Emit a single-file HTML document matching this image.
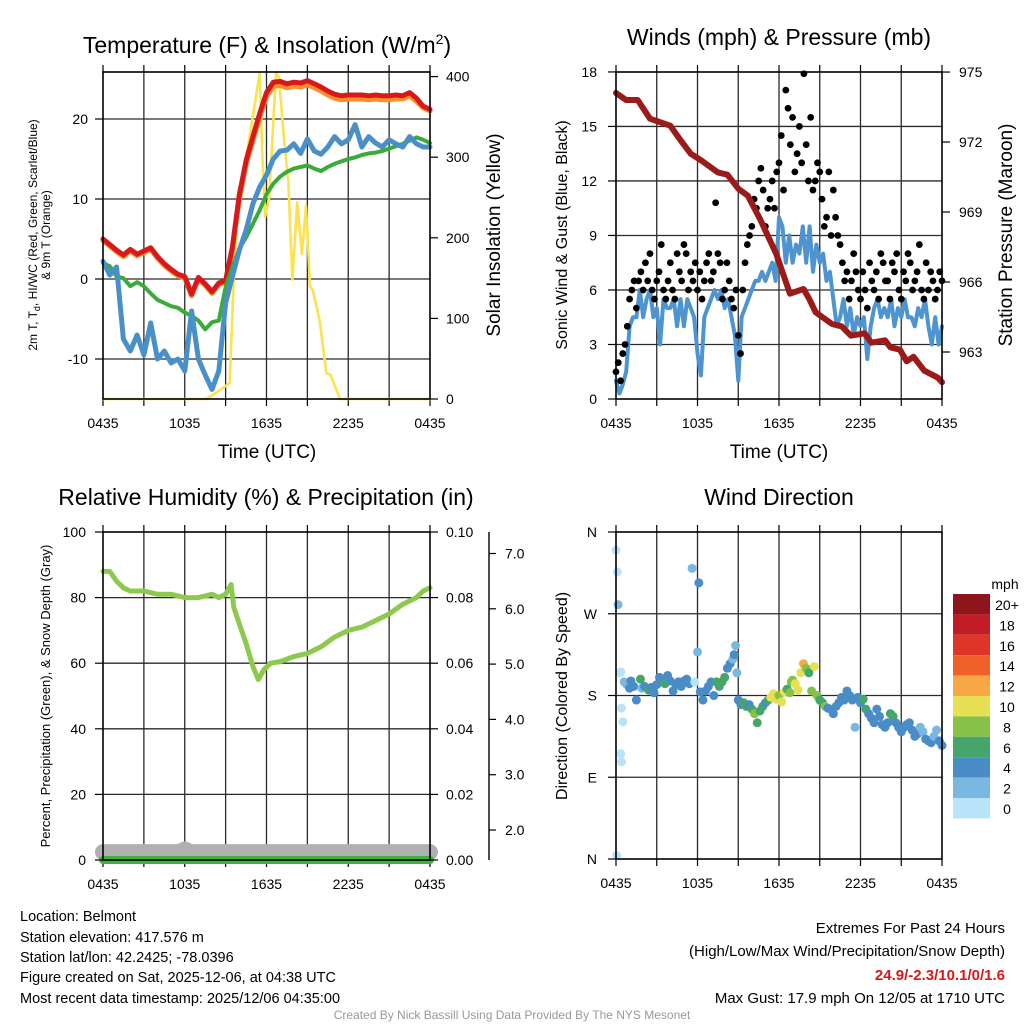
<!DOCTYPE html>
<html><head><meta charset="utf-8"><style>
html,body{margin:0;padding:0;background:#fff;}
svg{display:block;font-family:"Liberation Sans",Arial,sans-serif;}
</style></head><body>
<svg id="s" width="1024" height="1024" viewBox="0 0 1024 1024" xmlns="http://www.w3.org/2000/svg">
<rect width="1024" height="1024" fill="#fff"/>
<text x="267" y="53" font-size="23" text-anchor="middle">Temperature (F) &amp; Insolation (W/m<tspan font-size="14" dy="-9">2</tspan><tspan dy="9">)</tspan></text>
<text x="779" y="45" font-size="23" text-anchor="middle">Winds (mph) &amp; Pressure (mb)</text>
<text x="266" y="505" font-size="23" text-anchor="middle">Relative Humidity (%) &amp; Precipitation (in)</text>
<text x="779" y="505" font-size="23" text-anchor="middle">Wind Direction</text>
<text x="267" y="458" font-size="19" text-anchor="middle">Time (UTC)</text>
<text x="779" y="458" font-size="19" text-anchor="middle">Time (UTC)</text>
<g font-size="12" text-anchor="middle">
<text transform="translate(37,235) rotate(-90)">2m T, T<tspan font-size="9" dy="3">d</tspan><tspan dy="-3">, HI/WC (Red, Green, Scarlet/Blue)</tspan></text>
<text transform="translate(50,235) rotate(-90)">&amp; 9m T (Orange)</text>
</g>
<text transform="translate(500,235) rotate(-90)" font-size="19" text-anchor="middle">Solar Insolation (Yellow)</text>
<text transform="translate(567,235) rotate(-90)" font-size="16" text-anchor="middle">Sonic Wind &amp; Gust (Blue, Black)</text>
<text transform="translate(1012,235) rotate(-90)" font-size="19" text-anchor="middle">Station Pressure (Maroon)</text>
<text transform="translate(50,696) rotate(-90)" font-size="13" text-anchor="middle">Percent, Precipitation (Green), &amp; Snow Depth (Gray)</text>
<text transform="translate(567,696) rotate(-90)" font-size="16" text-anchor="middle">Direction (Colored By Speed)</text>
<g font-size="14.5">
<text x="20" y="921">Location: Belmont</text>
<text x="20" y="942">Station elevation: 417.576 m</text>
<text x="20" y="962">Station lat/lon: 42.2425; -78.0396</text>
<text x="20" y="982">Figure created on Sat, 2025-12-06, at 04:38 UTC</text>
<text x="20" y="1003">Most recent data timestamp: 2025/12/06 04:35:00</text>
</g>
<g font-size="15" text-anchor="end">
<text x="1005" y="933">Extremes For Past 24 Hours</text>
<text x="1005" y="956">(High/Low/Max Wind/Precipitation/Snow Depth)</text>
<text x="1005" y="980" fill="#d7191c" font-weight="bold">24.9/-2.3/10.1/0/1.6</text>
<text x="1005" y="1003">Max Gust: 17.9 mph On 12/05 at 1710 UTC</text>
</g>
<text x="512" y="1019" font-size="12" fill="#999" text-anchor="middle">Created By Nick Bassill Using Data Provided By The NYS Mesonet</text>
</svg>
<script>
// ---------- data ----------
const xTickLabels=["0435","1035","1635","2235","0435"];
const tempTicks=[-10,0,10,20];
const solarTicks=[0,100,200,300,400];
const windTicks=[0,3,6,9,12,15,18];
const presTicks=[963,966,969,972,975];
const rhTicks=[0,20,40,60,80,100];
const precipTicks=["0.00","0.02","0.04","0.06","0.08","0.10"];
const snowTicks=[2.0,3.0,4.0,5.0,6.0,7.0];
const dirLabels=["N","E","S","W","N"];
const speedBins=["0","2","4","6","8","10","12","14","16","18","20+"];
const speedColors=["#b9e3f8","#7ab8e4","#4a8cc6","#45a56b","#86c24a","#e6e055","#f7a845","#ef6128","#de3528","#c01d27","#8e151b"];

const tempRed=[5.0,4.3,3.6,3.0,3.7,3.1,3.5,3.9,2.8,1.9,1.2,0.6,0.3,-1.9,0.2,-0.6,-1.6,-0.5,-0.2,4.0,10.5,14.8,17.8,20.7,23.3,24.6,24.7,24.4,24.6,24.5,24.8,24.4,24.0,23.5,23.1,22.9,23.0,23.0,23.0,22.9,23.0,22.9,22.9,23.0,22.9,23.3,22.6,21.6,21.2];
const tempOrange=[4.8,4.1,3.4,2.8,3.5,2.9,3.3,3.7,2.6,1.7,1.0,0.4,0.1,-2.1,0.0,-0.8,-1.8,-0.7,-0.4,3.6,10.0,14.3,17.3,20.2,22.8,24.1,24.2,23.9,24.1,24.0,24.3,23.9,23.5,23.0,22.6,22.4,22.5,22.5,22.5,22.4,22.5,22.4,22.4,22.5,22.5,22.9,22.2,21.4,21.0];
const tempDew=[2.0,1.6,0.3,0.1,-0.9,-0.4,-0.9,-1.8,-2.6,-3.0,-3.4,-3.6,-4.2,-4.6,-5.2,-6.3,-5.4,-5.2,-1.0,1.5,3.8,5.2,6.9,8.6,10.6,11.9,12.8,13.4,13.8,14.0,14.2,13.8,13.5,14.0,14.4,14.7,15.0,15.2,15.5,15.7,15.8,16.0,16.3,16.6,16.9,17.3,17.7,17.4,17.0];
const tempChill=[2.2,0.5,1.5,-7.5,-9.0,-7.0,-9.5,-5.5,-10.0,-9.0,-10.5,-10.0,-11.5,-4.0,-10.0,-12.0,-13.8,-11.5,-3.0,0.3,3.6,6.1,9.4,11.5,13.0,15.0,16.0,16.1,16.9,15.7,17.5,16.0,15.6,16.5,17.8,16.9,17.4,19.3,16.5,17.8,17.0,16.5,17.4,16.9,16.5,17.8,16.9,16.5,16.5];
const solarTimes=[0,7.6,8.5,9.3,9.6,9.9,10.3,10.8,11.5,11.7,11.9,12.2,12.7,12.9,13.3,13.6,13.9,14.25,14.6,14.9,15.2,15.4,15.9,16.4,16.7,17.4,24];
const solarValues=[0,0,10,20,150,255,280,330,405,300,226,250,405,400,320,270,148,244,180,240,140,135,98,32,30,0,0];

const windSpeed=[1.0,0.3,0.8,1.5, 4.0,4.5,4.5,6.0, 4.5,5.5,6.0,4.5, 5.0,3.0,5.5,5.0, 5.0,5.5,4.0,5.5, 4.0,5.5,5.0,4.5, 2.5,1.3,4.5,5.0, 5.5,6.0,5.5,6.0, 5.0,5.5,4.5,3.5, 1.0,4.5,5.0,5.5, 6.0,6.5,6.5,7.0, 6.5,7.0,7.5,6.5, 10.0,9.5,7.5,9.0, 7.5,8.5,8.0,9.5, 7.5,9.5,7.0,8.5, 7.5,8.0,6.5,7.0, 5.5,4.0,4.5,5.5, 4.0,5.0,3.5,4.5, 4.0,4.5,2.2,4.0, 5.0,5.5,4.5,5.0, 4.5,5.5,4.0,5.0, 4.5,5.5,4.5,4.5, 4.0,5.0,4.5,5.5, 4.0,3.0,4.5,3.0, 4.0];
const windGust=[1.5,2.0,1.0,2.5,3.0,4.0, 5.5,6.0,6.5,5.0,6.5,7.0, 6.0,7.5,6.5,8.0,6.0,5.5, 6.5,7.0,8.5,6.0,5.5,6.5, 7.5,6.0,5.5,8.0,7.0,6.5, 8.5,8.0,6.0,7.0,6.5,7.5, 6.0,7.0,5.5,6.5,7.5,8.0, 6.5,7.0,10.8,8.0,7.5,5.5, 6.0,7.5,6.5,5.5,5.0,6.0, 3.5,2.5,6.0,7.5,8.5,9.0, 9.5,11.0,10.5,12.0,12.7,11.5, 9.5,10.5,11.0,12.0,10.5,12.5, 13.0,14.5,11.5,17.0,16.0,14.0, 15.5,12.5,13.5,15.0,13.0,17.9, 14.0,12.0,15.5,11.5,12.0,13.0, 12.5,11.0,9.5,10.0,12.5,9.0, 11.5,10.0,9.0,8.5,7.5,6.5, 7.0,5.5,6.5,8.0,7.0,6.0, 5.5,7.0,6.0,5.0,7.5,6.5, 6.0,7.0,5.5,8.0,7.5,6.5, 6.5,5.5,7.5,7.0,8.0,6.0, 5.5,7.0,6.5,8.0,7.5,6.0, 6.5,7.0,8.5,6.0,5.5,7.5, 6.0,7.0,6.5,5.5,6.0,7.0, 6.5];
const presTimes=[0,0.74,1.6,2.5,4.0,4.6,5.5,6.3,7.5,8.2,9.0,9.7,10.6,11.8,12.8,13.8,14.2,14.7,15.9,16.6,17.3,18.3,18.8,19.8,20.2,20.9,21.4,21.9,22.7,23.7,24];
const presValues=[974.1,973.8,973.8,973.0,972.7,972.2,971.5,971.2,970.7,970.6,970.0,969.7,968.7,967.2,965.5,965.7,965.3,964.7,964.2,964.1,963.7,963.8,963.4,963.5,963.2,963.1,962.6,962.8,962.2,961.9,961.7];

const rhTimes=[0,0.5,1,1.5,2,3,4,5,6,7,8,8.5,9.0,9.4,9.6,10,10.5,11,11.4,11.8,12.3,13,14,15,16,17,18,19,20,21,22,23,23.5,24];
const rhValues=[88,88,85,83,82,82,81,81,80,80,81,80,81,84,77,72,66,59,55,58,60,60.5,62,63,65,68,70,71,73,75,78,80,82,83];
const precipTimes=[0,24];
const precipValues=[0,0];
const snowTimes=[0,5.6,6.0,6.4,24];
const snowValues=[1.6,1.6,1.65,1.6,1.6];

const dirTimes=[0.0,0.05,0.1,0.15,0.3,0.35,0.4,0.5,0.35,0.4,0.6,0.8,1.0,1.1,1.3,1.5,1.8,1.9,2.1,2.4,2.6,2.8,3.0,3.2,3.4,3.6,3.8,4.0,4.2,4.4,4.6,4.8,5.0,5.2,5.4,5.6,5.8,6.0,6.1,6.2,6.4,6.6,6.8,7.0,7.2,7.4,7.6,7.8,8.0,8.2,8.4,8.6,8.7,8.8,8.9,9.0,9.2,9.4,9.6,9.8,10.0,10.2,10.4,10.6,10.8,11.0,11.2,11.4,11.6,11.8,12.0,12.2,12.4,12.6,12.8,12.9,13.0,13.2,13.4,13.6,13.8,14.0,14.2,14.4,14.6,14.8,15.0,15.2,15.4,15.6,15.8,16.0,16.2,16.4,16.6,16.8,17.0,17.2,17.4,17.6,17.8,18.0,18.2,18.4,18.6,18.8,19.0,19.2,19.4,19.6,19.8,20.0,20.2,20.4,20.6,20.8,21.0,21.2,21.4,21.6,21.8,22.0,22.2,22.4,22.6,22.8,23.0,23.2,23.4,23.6,23.8,24.0];
const dirValues=[340,4,316,280,205,206,166,151,116,107,195,192,188,196,190,175,198,188,190,186,189,183,192,200,196,193,202,196,185,192,195,190,196,198,193,320,195,228,304,184,175,185,190,195,180,195,190,195,200,210,215,220,225,235,205,175,170,172,168,170,165,160,150,163,168,172,175,178,182,176,180,173,184,187,183,195,197,193,186,205,215,210,205,185,212,180,175,172,168,166,165,160,168,172,178,175,185,180,175,145,178,172,176,165,160,155,150,165,157,148,145,150,160,157,150,145,140,145,148,150,142,135,138,145,140,132,130,128,135,142,130,125];
const dirSpeeds=[0.5,1,1,2,0.5,0.5,1,1.5,0.5,0.5,2,3,4,4,4,4,6,3,4,7,4,4,4,4,4,7,4,4,4,4,4,4,4,4,5,3,1,2,4,4,4,4,5,4,4,7,6,6,7,4,4,3,4,3,2,4,5,6,6,5,7,8,6,6,6,4,7,10,10,11,8,10,10,6,9,8,9,10,10,11,12,9,6,9,10,9,7,6,8,4,5,4,4,4,5,4,4,4,4,3,4,4,6,6,5,4,4,4,4,4,5,5,6,7,4,4,4,4,4,4,4,4,4,3,2,4,4,4,2,3,4,4];

// ---------- helpers ----------
const NS="http://www.w3.org/2000/svg";
const svg=document.getElementById('s');
function mk(tag,attrs,parent){const e=document.createElementNS(NS,tag);for(const k in attrs)e.setAttribute(k,attrs[k]);(parent||svg).appendChild(e);return e;}
function txt(s,x,y,size,anchor,parent){const e=mk('text',{x:x,y:y,'font-size':size,'text-anchor':anchor},parent);e.textContent=s;return e;}
const P1={x0:103,x1:430,y0:72,y1:399};
const P2={x0:616,x1:942,y0:72,y1:399};
const P3={x0:103,x1:430,y0:532,y1:860};
const P4={x0:616,x1:942,y0:532,y1:859};
function X(p,h){return p.x0+(p.x1-p.x0)*h/24;}
const yTemp=v=>279-v*8;
const ySolar=v=>399-v*0.806;
const yWind=v=>399-v*18.17;
const yPres=v=>352-(v-963)*23.33;
const yRH=v=>860-v*3.28;
const yPrecip=v=>860-v*3280;
const ySnow=v=>830-(v-2)*55.3;
const yDir=d=>859-d*0.9083;

function frame(p,name,hGrid){
  const g=mk('g',{});
  
  
  for(let h=3;h<24;h+=3){
    const l=mk('line',{x1:X(p,h),x2:X(p,h),y1:p.y0,y2:p.y1,stroke:'#2a2a2a','stroke-width':1.3},g);
    
    
  }
  for(let h=0;h<=24;h+=3){
    const t=mk('line',{x1:X(p,h),x2:X(p,h),y1:p.y1,y2:p.y1+7,stroke:'#000','stroke-width':1.2},g);
    
    
    const t2=mk('line',{x1:X(p,h),x2:X(p,h),y1:p.y0,y2:p.y0-7,stroke:'#000','stroke-width':1.2},g);
    
    
  }
  hGrid.forEach(y=>{
    const l=mk('line',{x1:p.x0,x2:p.x1,y1:y,y2:y,stroke:'#2a2a2a','stroke-width':1.3},g);
    
    
  });
  xTickLabels.forEach((s,i)=>{
    const t=txt(s,X(p,i*6),p.y1+29,14,'middle',g);
    
    
  });
  return g;
}
function border(p,name){
  const r=mk('rect',{x:p.x0,y:p.y0,width:p.x1-p.x0,height:p.y1-p.y0,fill:'none',stroke:'#000','stroke-width':1.6});
  
  
}
function yTicks(p,vals,fy,side,labels,name,lx){
  vals.forEach((v,i)=>{
    const y=fy(v);
    const x=side==='l'?p.x0:p.x1;
    const t=mk('line',{x1:x,x2:side==='l'?x-8:x+8,y1:y,y2:y,stroke:'#000','stroke-width':1.2});
    
    
    const l=txt(labels?labels[i]:String(v),lx,y+5,14,side==='l'?'end':'start');
    
    
  });
}
function poly(pts,stroke,w,name){
  const e=mk('polyline',{points:pts.map(p=>p[0].toFixed(1)+','+p[1].toFixed(1)).join(' '),fill:'none',stroke:stroke,'stroke-width':w,'stroke-linejoin':'round','stroke-linecap':'round'});
  
  
  return e;
}

// ---------- panel 1 ----------
frame(P1,'temp-grid',tempTicks.map(yTemp));
poly(solarTimes.map((t,i)=>[X(P1,t),Math.max(P1.y0,ySolar(solarValues[i]))]),'#fce24e',2.6,'solar-line');
poly(tempOrange.map((v,i)=>[X(P1,i*0.5),yTemp(v)]),'#f98e2b',5,'temp-9m-line');
poly(tempRed.map((v,i)=>[X(P1,i*0.5),yTemp(v)]),'#d7191c',5,'temp-2m-line');
poly(tempDew.map((v,i)=>[X(P1,i*0.5),yTemp(v)]),'#3aab3a',4,'dewpoint-line');
poly(tempChill.map((v,i)=>[X(P1,i*0.5),yTemp(v)]),'#4a90c8',5,'windchill-line');
border(P1,'temp-plot-frame');
yTicks(P1,tempTicks,yTemp,'l',null,'temp-y',88);
yTicks(P1,solarTicks,ySolar,'r',null,'solar-y',446);

// ---------- panel 2 ----------
frame(P2,'wind-grid',[3,6,9,12,15].map(yWind));
poly(windSpeed.map((v,i)=>[X(P2,i*0.25),yWind(v)]),'#4d94d0',4,'sonic-wind-line');
windGust.forEach((v,i)=>{
  const c=mk('circle',{cx:X(P2,i/6),cy:yWind(v),r:3.4,fill:'#000'});
  
  
});
poly(presTimes.map((t,i)=>[X(P2,t),yPres(presValues[i])]),'#9b1b1b',6,'pressure-line');
border(P2,'wind-plot-frame');
yTicks(P2,windTicks,yWind,'l',null,'wind-y',597);
yTicks(P2,presTicks,yPres,'r',null,'pressure-y',959);

// ---------- panel 3 ----------
frame(P3,'rh-grid',[20,40,60,80].map(yRH));
poly(snowTimes.map((t,i)=>[X(P3,t),ySnow(snowValues[i])+0]),'#b0b0b0',16,'snow-depth-line');
poly(precipTimes.map((t,i)=>[X(P3,t),yPrecip(precipValues[i])]),'#3db33d',8,'precip-line');
poly(rhTimes.map((t,i)=>[X(P3,t),yRH(rhValues[i])]),'#8dc94e',5,'rh-line');
border(P3,'rh-plot-frame');
yTicks(P3,rhTicks,yRH,'l',null,'rh-y',86);
yTicks(P3,[0,0.02,0.04,0.06,0.08,0.10],yPrecip,'r',precipTicks,'precip-y',446);
const snowAxis=mk('line',{x1:489,x2:489,y1:532,y2:860,stroke:'#000','stroke-width':1.4});


snowTicks.forEach(v=>{
  const y=ySnow(v);
  const t=mk('line',{x1:489,x2:496,y1:y,y2:y,stroke:'#000','stroke-width':1.2});
  
  
  const l=txt(v.toFixed(1),505,y+5,14,'start');
  
  
});

// ---------- panel 4 ----------
frame(P4,'direction-grid',[90,180,270].map(yDir));
dirTimes.forEach((t,i)=>{
  const idx=Math.min(10,Math.floor(dirSpeeds[i]/2));
  const c=mk('circle',{cx:X(P4,t),cy:yDir(dirValues[i]),r:4.5,fill:speedColors[idx]});
  
  
});
border(P4,'direction-plot-frame');
dirLabels.forEach((s,i)=>{
  const y=yDir(i*90);
  const t=mk('line',{x1:P4.x0,x2:P4.x0-8,y1:y,y2:y,stroke:'#000','stroke-width':1.2});
  
  
  const l=txt(s,597,y+5,14,'end');
  
  
});
const cbTitle=txt('mph',1005,589,14,'middle');


speedBins.forEach((s,i)=>{
  const k=10-i;
  const y=594+i*20.4;
  const r=mk('rect',{x:953,y:y,width:37,height:20.4,fill:speedColors[k]});
  
  
  const l=txt(speedBins[k],1007,y+16,14,'middle');
  
  
});
</script>
</body></html>
